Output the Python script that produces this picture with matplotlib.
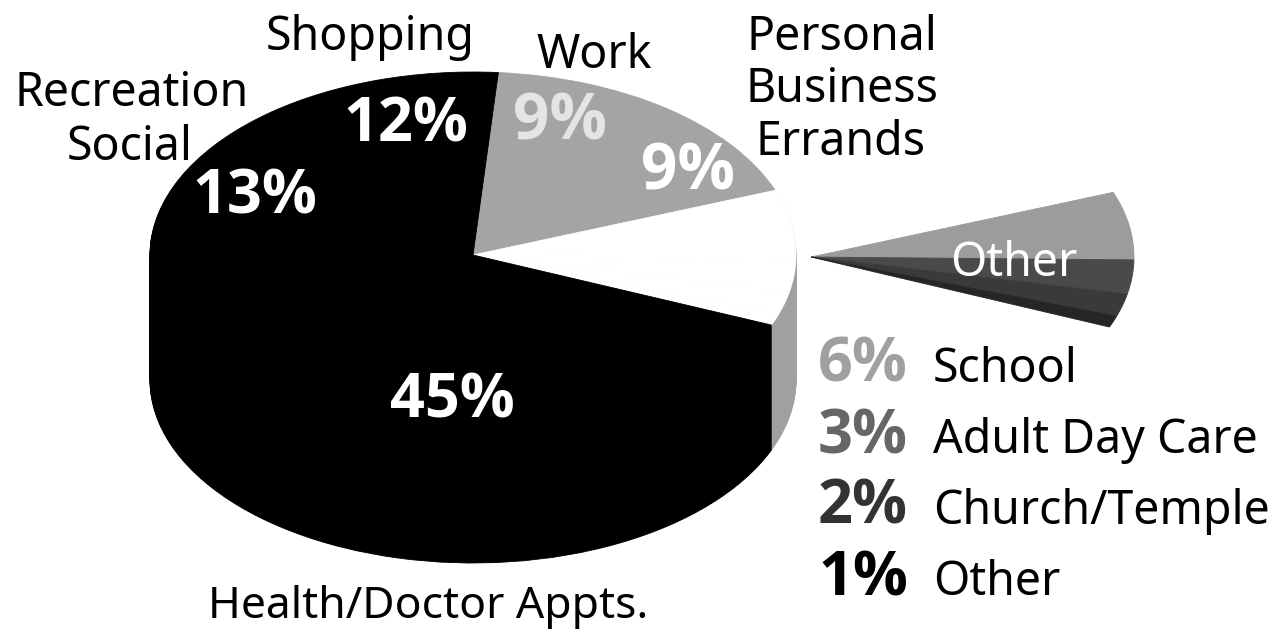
import matplotlib
matplotlib.use('Agg')
import matplotlib.pyplot as plt

plt.rcParams['font.family'] = ['Noto Sans', 'DejaVu Sans']

# slices clockwise from the top: work, personal, school, day care, church, other, health, recreation, shopping
slice_names = ['Work', 'Personal', 'School', 'Adult Day Care', 'Church/Temple', 'Other',
               'Health', 'Recreation', 'Shopping']
slice_vals = [9, 9, 6, 3, 2, 1, 45, 13, 12]

top_colors = ['#a4a4a4', '#a4a4a4', 'white', 'white', 'white', 'white', 'black', 'black', 'black']
side_colors = ['white', 'white', '#a0a0a0', '#a0a0a0', '#a0a0a0', '#a0a0a0', 'black', 'black', 'black']
# pulled out wedge, the rest of the pie stays invisible
out_colors = ['none', 'none', '#9c9c9c', '#4a4a4a', '#3a3a3a', '#262626', 'none', 'none', 'none']

legend_pct = ['6%', '3%', '2%', '1%']
legend_names = ['School', 'Adult Day Care', 'Church/Temple', 'Other']
legend_colors = ['#a0a0a0', '#666666', '#333333', 'black']

W, H = 1278, 637
CX, CY = 473, 255   # pie centre in pixels
RX, RY = 323, 183   # ellipse radii in pixels
DEPTH = 125
START = 85.5
BOLD = 'Open Sans'


def draw_pie(colors, px=CX, py=CY):
    wedges, _ = ax.pie(slice_vals, colors=colors, startangle=START, counterclock=False,
                       center=((px - CX) / RX, (CY - py) / RY), radius=1)
    # thin edge in the same colour, hides the seams between slices
    for w in wedges:
        w.set_edgecolor(w.get_facecolor())
        w.set_linewidth(0.6)


def put(x, y, s, size, **kw):
    fig.text(x / W, 1 - y / H, s, fontsize=size, va='baseline', **kw)


def put_bold(x, y, s, size, **kw):
    put(x, y, s, size, family=BOLD, fontweight='bold', **kw)


fig = plt.figure(figsize=(W / 100, H / 100), dpi=100)
ax = fig.add_axes([0, 0, 1, 1])

# depth of the pie: same pie stacked from the bottom up
for d in range(DEPTH, 0, -1):
    draw_pie(side_colors, py=CY + d)
draw_pie(top_colors)
draw_pie(out_colors, px=811, py=257)

ax.set_aspect('auto')
ax.set_xlim(-CX / RX, (W - CX) / RX)
ax.set_ylim((CY - H) / RY, CY / RY)
ax.axis('off')

# labels round the pie
put(370, 50, 'Shopping', 33.5, ha='center')
put(594, 68, 'Work', 33.5, ha='center')
put(842, 50, 'Personal', 33.5, ha='center')
put(842, 102, 'Business', 33.5, ha='center')
put(841, 155, 'Errands', 33.5, ha='center')
put(132, 106, 'Recreation', 33.5, ha='center')
put(130, 160, 'Social', 33.5, ha='center')
put(428, 618, 'Health/Doctor Appts.', 32, ha='center')

# percentages on the pie
put_bold(406, 142, '12%', 44, ha='center', color='white')
put_bold(255, 214, '13%', 44, ha='center', color='white')
put_bold(452, 418, '45%', 44, ha='center', color='white')
put_bold(560, 140, '9%', 46, ha='center', color='#e4e4e4')
put_bold(688, 190, '9%', 46, ha='center', color='white')
put(1014, 276, 'Other', 33.5, ha='center', color='white')

# legend on the lower right
for i in range(len(legend_pct)):
    y = 382 + i * 71
    put_bold(908, y, legend_pct[i], 44, ha='right', color=legend_colors[i])
    put(933, y, legend_names[i], 33.5, ha='left')

fig.savefig('out.png', dpi=100, facecolor='white')
